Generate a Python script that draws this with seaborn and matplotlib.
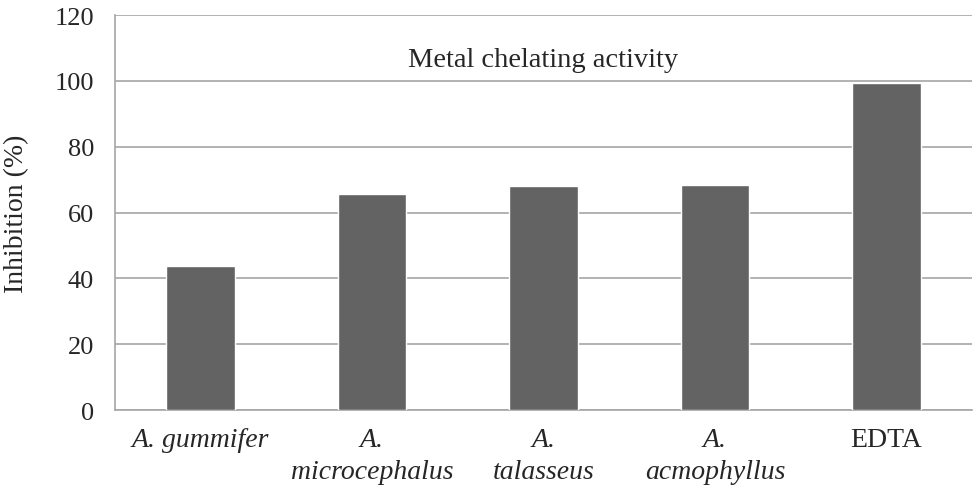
import matplotlib
matplotlib.use("Agg")
import matplotlib.pyplot as plt
import seaborn as sns
import pandas as pd
from matplotlib.ticker import FixedLocator

categories = ["A. gummifer", "A. microcephalus", "A. talasseus", "A. acmophyllus", "EDTA"]
tick_labels = ["A. gummifer", "A.\nmicrocephalus", "A.\ntalasseus", "A.\nacmophyllus", "EDTA"]
italic_flags = [True, True, True, True, False]
values = [43.9, 65.5, 68.2, 68.5, 99.4]
yticks = [0, 20, 40, 60, 80, 100, 120]

sns.set_style("white")
plt.rcParams['font.family'] = ['Liberation Serif', 'DejaVu Serif']

df = pd.DataFrame({"cat": categories, "val": values})

fig = plt.figure(figsize=(9.73, 4.89), dpi=100)
ax = fig.add_axes([0.118, 0.1595, 0.881, 0.8075])
sns.barplot(data=df, x="cat", y="val", color="#636363", saturation=1, width=0.4, ax=ax, zorder=3)

ax.set_ylim(0, 120)
ax.set_xlim(-0.5, len(categories) - 0.5)
ax.set_yticks(yticks)
ax.set_yticklabels([str(t) for t in yticks], fontsize=19)
ax.yaxis.grid(True, color="#a6a6a6", linewidth=1.2, zorder=0)
ax.set_axisbelow(True)

ax.set_xticks(range(len(categories)))
ax.set_xticklabels(tick_labels, fontsize=20, linespacing=1.4)
for lab, it in zip(ax.get_xticklabels(), italic_flags):
    lab.set_fontstyle("italic" if it else "normal")
    lab.set_verticalalignment("top")
ax.tick_params(axis="x", which="major", length=0, pad=12)
ax.xaxis.set_minor_locator(FixedLocator([i - 0.5 for i in range(len(categories) + 1)]))
ax.tick_params(axis="x", which="minor", length=7, color="#a6a6a6", width=1.2, direction="out")
ax.tick_params(axis="y", which="major", length=7, color="#a6a6a6", width=1.2, direction="out", pad=8)

for s in ["top", "right"]:
    ax.spines[s].set_visible(False)
for s in ["left", "bottom"]:
    ax.spines[s].set_color("#a6a6a6")
    ax.spines[s].set_linewidth(1.2)

ax.set_xlabel("")
ax.set_ylabel("Inhibition (%)", fontsize=20, labelpad=18)
ax.text(0.5, 0.888, "Metal chelating activity", transform=ax.transAxes,
        ha="center", va="center", fontsize=20.5)

fig.savefig("out.png", dpi=100)
